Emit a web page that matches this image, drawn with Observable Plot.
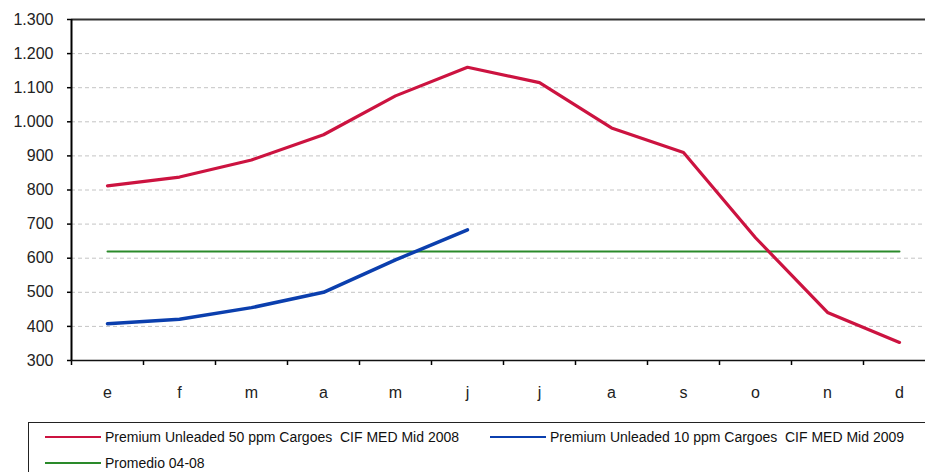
<!DOCTYPE html>
<html>
<head>
<meta charset="utf-8">
<script src="https://cdn.jsdelivr.net/npm/d3@7"></script>
<script src="https://cdn.jsdelivr.net/npm/@observablehq/plot@0.6"></script>
<style>
  html, body { margin: 0; padding: 0; background: #fff; overflow: hidden; }
  body { width: 925px; height: 472px; font-family: "Liberation Sans", Arial, sans-serif; position: relative; }
  #chart svg { display: block; }
  .legend { position: absolute; left: 28px; top: 422px; width: 920px; height: 60px; border: 1.5px solid #222; box-sizing: border-box; font-size: 14px; color: #111; }
  .item { position: absolute; display: flex; align-items: center; white-space: pre; }
  .sw { display: inline-block; width: 56px; height: 2px; margin-right: 4px; }
</style>
</head>
<body>
<div id="chart"></div>
<div class="legend" id="legend"></div>
<script>
const months = ["e","f","m","a","m","j","j","a","s","o","n","d"];
const series2008 = [812, 838, 888, 962, 1076, 1160, 1115, 982, 910, 660, 441, 353];
const series2009 = [408, 421, 455, 500, 595, 683];
const promedio = 620;
const yTicks = [300,400,500,600,700,800,900,1000,1100,1200,1300];
const names = ["Premium Unleaded 50 ppm Cargoes  CIF MED Mid 2008", "Premium Unleaded 10 ppm Cargoes  CIF MED Mid 2009", "Promedio 04-08"];
const colors = ["#cc1340", "#0b3fae", "#2a8a2a"];

const d2008 = series2008.map((v, i) => ({i: i + 0.5, v}));
const d2009 = series2009.map((v, i) => ({i: i + 0.5, v}));
const dProm = months.map((m, i) => ({i: i + 0.5, v: promedio}));
const fmt = d => d3.format(",")(d).replace(/,/g, ".");

const chart = Plot.plot({
  width: 925,
  height: 410,
  marginLeft: 71,
  marginTop: 19,
  marginBottom: 50,
  marginRight: 0,
  style: {fontFamily: "'Liberation Sans', Arial, sans-serif", color: "#222", background: "#fff"},
  x: {domain: [0, 12], range: [71, 935]},
  y: {domain: [300, 1300]},
  marks: [
    Plot.gridY(yTicks.slice(1, -1), {stroke: "#c4c4c4", strokeOpacity: 1, strokeDasharray: "4,3", strokeWidth: 1}),
    Plot.axisY(yTicks, {tickSize: 4, tickPadding: 14, tickFormat: fmt, fontSize: 16, stroke: "#000", strokeWidth: 1.5, label: null}),
    Plot.axisX(d3.range(0, 13), {tickSize: 5, tickFormat: () => "", stroke: "#000", strokeWidth: 1.5, label: null}),
    Plot.axisX(months.map((m, i) => i + 0.5), {tickSize: 0, tickPadding: 26, tickFormat: (d) => months[Math.floor(d)], fontSize: 16, label: null}),
    Plot.ruleY([1300], {stroke: "#333", strokeWidth: 2}),
    Plot.ruleY([300], {stroke: "#111", strokeWidth: 1.5}),
    Plot.ruleX([0], {stroke: "#000", strokeWidth: 2}),
    Plot.line(dProm, {x: "i", y: "v", stroke: colors[2], strokeWidth: 2}),
    Plot.line(d2008, {x: "i", y: "v", stroke: colors[0], strokeWidth: 3.2}),
    Plot.line(d2009, {x: "i", y: "v", stroke: colors[1], strokeWidth: 3.5})
  ]
});
document.getElementById("chart").appendChild(chart);

const legend = document.getElementById("legend");
const pos = [{left: 16, top: 6}, {left: 461, top: 6}, {left: 16, top: 32}];
names.forEach((n, k) => {
  const it = document.createElement("div");
  it.className = "item";
  it.style.left = pos[k].left + "px";
  it.style.top = pos[k].top + "px";
  const sw = document.createElement("span");
  sw.className = "sw";
  sw.style.background = colors[k];
  const tx = document.createElement("span");
  tx.textContent = n;
  it.appendChild(sw);
  it.appendChild(tx);
  legend.appendChild(it);
});
</script>
</body>
</html>
